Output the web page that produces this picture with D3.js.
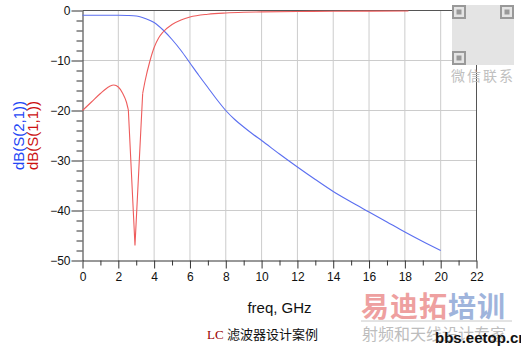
<!DOCTYPE html>
<html>
<head>
<meta charset="utf-8">
<script src="https://cdn.jsdelivr.net/npm/d3@7"></script>
<style>
  body { margin: 0; background: #fff; }
  svg { display: block; font-family: "Liberation Sans", Arial, sans-serif; }
</style>
</head>
<body>
<div class="canvas"></div>
<script>
const dimensions = { width: 521, height: 348 };

// S21 (blue)
const freqS21 = [0, 1, 2, 2.5, 3, 3.5, 4, 4.5, 5, 5.5, 6, 6.5, 7, 7.5, 8, 8.5, 9, 9.5, 10, 11, 12, 13, 14, 15, 16, 17, 18, 19, 20];
const s21 = [-0.95, -0.95, -0.96, -1.0, -1.1, -1.6, -2.4, -3.9, -5.8, -8.0, -10.5, -13.0, -15.4, -17.8, -20.0, -21.8, -23.3, -24.7, -26.0, -28.7, -31.3, -33.8, -36.2, -38.3, -40.3, -42.3, -44.3, -46.2, -48.0];

// S11 (red)
const freqS11 = [0, 0.5, 1, 1.5, 1.75, 2, 2.25, 2.45, 2.56, 2.93, 3.36, 3.5, 3.75, 4, 4.25, 4.5, 5, 5.5, 6, 7, 8, 9, 10, 12, 14, 16, 18.2];
const s11 = [-20, -18.3, -16.6, -15.2, -14.9, -15.3, -16.6, -18.3, -19.9, -47, -16.6, -14.0, -10.3, -7.4, -5.5, -4.3, -2.8, -1.9, -1.3, -0.75, -0.5, -0.36, -0.28, -0.2, -0.15, -0.12, -0.1];

const xTicks = [0, 2, 4, 6, 8, 10, 12, 14, 16, 18, 20, 22];
const yTicks = [0, -10, -20, -30, -40, -50];

const svg = d3.select('.canvas')
    .append('svg')
    .attr('width', dimensions.width)
    .attr('height', dimensions.height);

const x = d3.scaleLinear().domain([0, 22]).range([82.5, 476.5]);
const y = d3.scaleLinear().domain([-50, 0]).range([260.5, 10.5]);

// grid
svg.append('g')
    .selectAll('line')
    .data(xTicks.slice(1, -1))
    .enter().append('line')
    .attr('x1', d => x(d)).attr('x2', d => x(d))
    .attr('y1', y(0)).attr('y2', y(-50))
    .attr('stroke', '#cccccc');

svg.append('g')
    .selectAll('line')
    .data(yTicks.slice(1, -1))
    .enter().append('line')
    .attr('x1', x(0)).attr('x2', x(22))
    .attr('y1', d => y(d)).attr('y2', d => y(d))
    .attr('stroke', '#cccccc');

// top and right border
svg.append('path')
    .attr('d', `M${x(0)},${y(0)}H${x(22)}V${y(-50)}`)
    .attr('fill', 'none')
    .attr('stroke', '#555');

// minor ticks
const xMinor = d3.range(1, 22, 2);
const yMinor = d3.range(-48, 0, 2).filter(v => v % 10 !== 0);

svg.append('g')
    .attr('transform', `translate(0, ${y(-50)})`)
    .call(d3.axisBottom(x).tickValues(xMinor).tickSize(5).tickFormat(''))
    .call(g => g.select('.domain').remove())
    .selectAll('line').attr('stroke', '#333');

svg.append('g')
    .attr('transform', `translate(${x(0)}, 0)`)
    .call(d3.axisLeft(y).tickValues(yMinor).tickSize(6).tickFormat(''))
    .call(g => g.select('.domain').remove())
    .selectAll('line').attr('stroke', '#333');

// major axes
const xAxis = svg.append('g')
    .attr('transform', `translate(0, ${y(-50)})`)
    .call(d3.axisBottom(x).tickValues(xTicks).tickSize(8).tickSizeOuter(0).tickPadding(4));

const yAxis = svg.append('g')
    .attr('transform', `translate(${x(0)}, 0)`)
    .call(d3.axisLeft(y).tickValues(yTicks).tickSize(11).tickSizeOuter(0).tickPadding(1));

[xAxis, yAxis].forEach(a => {
    a.selectAll('path, line').attr('stroke', '#333');
    a.selectAll('text')
        .attr('fill', '#111')
        .style('font-size', '12px')
        .style('font-family', '"Liberation Sans", Arial, sans-serif');
});

// curves
const smoothLine = d3.line()
    .curve(d3.curveMonotoneX)
    .x(d => x(d[0]))
    .y(d => y(d[1]));

const sharpLine = d3.line()
    .x(d => x(d[0]))
    .y(d => y(d[1]));

svg.append('path')
    .datum(freqS21.map((f, i) => [f, s21[i]]))
    .attr('fill', 'none')
    .attr('stroke', '#5b6ff0')
    .attr('stroke-width', 1.1)
    .attr('d', smoothLine);

// the notch stays sharp, the rest is smoothed
const s11Points = freqS11.map((f, i) => [f, s11[i]]);
const notch = freqS11.indexOf(2.93);
const s11Parts = [
    { pts: s11Points.slice(0, notch), curve: smoothLine },
    { pts: s11Points.slice(notch - 1, notch + 2), curve: sharpLine },
    { pts: s11Points.slice(notch + 1), curve: smoothLine }
];

svg.selectAll('.s11')
    .data(s11Parts)
    .enter().append('path')
    .attr('class', 's11')
    .attr('fill', 'none')
    .attr('stroke', '#ee5c5c')
    .attr('stroke-width', 1.1)
    .attr('d', d => d.curve(d.pts));

// axis titles
svg.append('text')
    .attr('x', 279.5).attr('y', 313)
    .attr('text-anchor', 'middle')
    .style('font-size', '15px')
    .attr('fill', '#111')
    .text('freq, GHz');

svg.append('text')
    .attr('transform', `translate(24, ${135.5}) rotate(-90)`)
    .attr('text-anchor', 'middle')
    .style('font-size', '15px')
    .attr('fill', '#2346f5')
    .text('dB(S(2,1))');

svg.append('text')
    .attr('transform', `translate(38, ${135.5}) rotate(-90)`)
    .attr('text-anchor', 'middle')
    .style('font-size', '15px')
    .attr('fill', '#cc1111')
    .text('dB(S(1,1))');

// caption
const caption = svg.append('text')
    .attr('x', 207).attr('y', 339)
    .style('font-size', '13px');
caption.append('tspan')
    .style('font-family', '"Liberation Serif", "Times New Roman", serif')
    .attr('fill', '#9a0000')
    .text('LC ');
caption.append('tspan')
    .style('font-family', '"Noto Sans CJK SC", sans-serif')
    .attr('fill', '#111')
    .text('滤波器设计案例');

// watermark
const wm = svg.append('g').style('font-family', '"Noto Sans CJK SC", sans-serif');

const qr = wm.append('g').attr('transform', 'translate(452, 5)');
qr.append('rect').attr('width', 62).attr('height', 60).attr('fill', '#e4e4e4');
[[0, 0], [48, 0], [0, 46]].forEach(p => {
    qr.append('rect').attr('x', p[0] + 1).attr('y', p[1] + 1).attr('width', 12).attr('height', 12)
        .attr('fill', 'none').attr('stroke', '#999').attr('stroke-width', 2);
    qr.append('rect').attr('x', p[0] + 4.5).attr('y', p[1] + 4.5).attr('width', 5).attr('height', 5)
        .attr('fill', '#999');
});
wm.append('text')
    .attr('x', 483).attr('y', 81)
    .attr('text-anchor', 'middle')
    .style('font-size', '14px')
    .style('letter-spacing', '2px')
    .attr('fill', '#c0c0c0')
    .text('微信联系');

const big = wm.append('text')
    .attr('x', 361).attr('y', 317)
    .style('font-size', '28px')
    .style('letter-spacing', '1px')
    .style('font-weight', 'bold');
big.append('tspan').attr('fill', '#eea0a0').text('易迪拓');
big.append('tspan').attr('fill', '#9fb4dc').text('培训');

wm.append('line')
    .attr('x1', 361).attr('x2', 512)
    .attr('y1', 321).attr('y2', 321)
    .attr('stroke', '#c8c8c8');

wm.append('text')
    .attr('x', 362).attr('y', 340)
    .style('font-size', '16px')
    .attr('fill', '#bdbdbd')
    .text('射频和天线设计专家');

wm.append('text')
    .attr('x', 435).attr('y', 343)
    .style('font-family', '"Liberation Sans", Arial, sans-serif')
    .style('font-size', '15px')
    .style('font-weight', 'bold')
    .attr('fill', '#111')
    .text('bbs.eetop.cn');
</script>
</body>
</html>
